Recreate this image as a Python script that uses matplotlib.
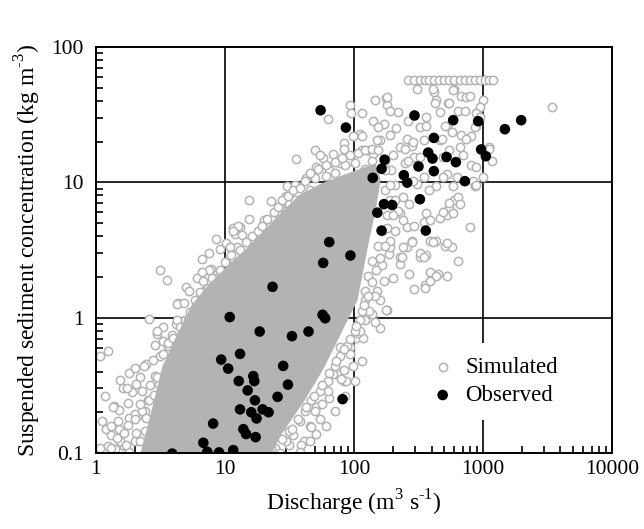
import numpy as np
import matplotlib
matplotlib.use("Agg")
import matplotlib.pyplot as plt
from matplotlib.ticker import LogLocator, FuncFormatter

plt.rcParams["font.family"] = ["Liberation Serif", "DejaVu Serif"]
plt.rcParams["mathtext.fontset"] = "custom"
plt.rcParams["mathtext.rm"] = "Liberation Serif"

# observed discharge (m3/s) and suspended sediment concentration (kg/m3)
obs_q = [86.7, 295, 589, 920, 1482, 1983, 417, 377, 407, 523, 618, 970, 1055,
         173, 164, 140, 244, 259, 317, 417, 725, 325, 171, 198, 152, 164, 361,
         94, 55.2, 64.4, 57.8, 23.4, 10.9, 57.2, 59.9, 18.6, 33.1, 44.5, 13.1,
         9.36, 10.6, 28.3, 12.8, 16.6, 16.9, 30.8, 15.0, 17.1, 25.6, 81.7, 13.1,
         16.0, 19.6, 21.8, 17.6, 8.1, 13.9, 14.6, 17.3, 6.8, 7.3, 9.0, 11.6, 3.9]
obs_c = [25.4, 31.2, 28.8, 28.3, 24.7, 28.8, 21.3, 16.6, 15.0, 15.4, 14.1, 17.5, 15.6,
         14.7, 12.6, 10.8, 11.3, 9.95, 13.1, 12.1, 10.2, 7.5, 6.9, 6.8, 5.97, 4.4, 4.4,
         2.88, 34.1, 3.62, 2.54, 1.69, 1.01, 1.05, 0.99, 0.79, 0.73, 0.79, 0.54,
         0.49, 0.42, 0.44, 0.34, 0.37, 0.34, 0.32, 0.29, 0.245, 0.26, 0.25, 0.21,
         0.20, 0.21, 0.20, 0.18, 0.165, 0.15, 0.138, 0.131, 0.119, 0.102, 0.101, 0.105, 0.099]

# simulated points outside the saturated core, read as log10 values
sim_log_q = [
    0.93, 0.88, 0.82, 0.96, 0.50, 0.55, 0.78, 0.70, 0.64, 0.41, 1.06, 0.89, 0.72, 0.52, 0.62,
    0.09, 0.03, 0.07, 0.47, 0.46, 0.19, 0.26, 0.30, 0.39, 0.21, 0.14, 0.18, 0.25, 0.26, 0.32,
    0.08, 0.12, 0.18, 0.03, 0.36, 0.28, 0.34, 0.37, 0.24, 0.17, 0.30, 0.47, 0.52, 0.63, 0.13,
    0.09, 0.15, 0.22, 0.26, 0.30, 0.19, 0.38, 0.34, 0.42, 0.12, 0.05,
    1.66, 1.74, 1.71, 1.61, 1.50, 1.92, 1.99, 1.97, 2.02, 1.87, 1.81, 1.71, 2.26, 2.20, 2.14,
    2.16, 2.07, 2.03, 1.97, 1.94, 1.90, 1.84, 1.92, 1.75, 1.70, 1.67, 1.59, 1.53, 1.89, 1.80,
    2.81, 2.72, 2.65, 2.59, 2.55, 2.47, 2.43, 2.51, 2.56, 2.71, 2.76, 2.36, 2.30, 2.25, 2.27,
    2.18, 2.23, 2.41,
    2.42, 2.47, 2.51, 2.55, 2.58, 2.62, 2.66, 2.70, 2.74, 2.78, 2.82, 2.86, 2.90, 2.94, 2.98,
    3.02, 3.05, 3.08,
    2.49, 2.62, 2.64, 2.78, 2.83, 2.87, 3.00, 2.98, 2.95, 2.25, 2.26, 2.16, 2.34, 2.28, 2.56,
    2.67, 2.73, 2.72, 2.51, 2.33, 2.42, 2.83, 2.91, 2.95, 3.05, 3.07, 3.00, 2.92, 2.94, 2.54,
    2.67, 2.45, 2.36, 2.30, 2.40, 2.47, 2.74, 2.85, 2.91, 2.80, 2.72, 2.54, 2.49, 2.64, 2.78,
    2.81, 2.74, 2.67, 2.72, 2.56, 2.54, 2.90, 2.45, 2.59, 2.64, 2.72, 2.51, 2.36, 2.28, 2.41,
    2.36, 2.05, 1.97, 2.06, 1.99, 1.92, 2.15, 2.06, 2.20, 2.28, 2.23, 2.15, 3.54,
    1.80, 1.98, 1.70, 1.76, 1.84, 1.92, 1.71, 1.63, 1.81, 1.89, 1.97, 2.06, 2.26, 2.19, 2.18,
    2.10, 2.14,
    1.55, 1.74, 1.19, 1.36, 1.30, 1.19, 1.08, 1.48, 1.44, 1.50, 1.12, 1.01, 1.09,
    1.10, 1.06, 1.04, 1.13, 1.22, 1.01, 0.88, 0.94, 0.82, 0.83, 1.56, 1.43, 1.50, 1.40,
    2.61, 2.63, 2.77, 2.90, 2.74, 2.81, 2.86, 2.98, 2.94, 2.87, 2.82, 2.71, 2.76, 2.68, 2.56,
    2.41, 2.46, 2.40, 2.42, 2.51, 2.69, 2.95, 3.05, 2.95, 2.69, 2.77, 2.58, 2.46, 2.38, 2.43,
    2.74, 2.82, 2.69, 2.77, 2.59, 2.47, 2.38, 2.45, 2.61, 2.54, 2.64, 2.59, 2.55, 2.38, 2.37,
    2.24, 2.28, 2.26, 2.22, 2.19, 2.14, 2.11, 2.32, 2.29, 2.24, 2.32, 2.34, 2.20, 2.16, 2.12,
    2.09, 2.05, 2.09, 2.22, 2.28,
    1.62, 1.70, 1.78, 1.85, 1.93, 2.01, 1.66, 1.54, 1.47, 2.09,
    0.38, 0.40, 0.42, 0.46, 0.50, 0.56, 0.59, 0.69, 0.73, 0.81, 0.84, 0.92, 0.98, 1.05, 1.13,
    1.23, 1.31, 1.35, 1.47, 1.54,
    1.39, 1.47, 1.50, 1.58, 1.62, 1.67, 1.74, 1.80, 1.85, 1.89, 1.95, 2.01, 2.05, 2.06, 2.09,
    0.50, 0.57, 1.31, 1.43, 1.58, 0.46,
    # denser fringe along the edges of the cloud
    0.16, 0.22, 0.25, 0.30, 0.36, 0.41, 0.45, 0.49, 0.53, 0.56, 0.60, 0.62, 0.66, 0.68, 0.71,
    0.75, 0.63, 0.68, 0.34, 0.39, 0.31, 0.23, 0.41, 0.12, 0.44, 0.52, 0.56, 0.60, 0.65, 0.47,
    0.31,
    0.77, 0.81, 0.87, 0.90, 0.96, 1.00, 1.05, 1.12, 1.16, 1.21, 1.26, 1.29, 1.33, 1.38, 1.41,
    1.44, 1.49, 1.53, 1.58,
    1.66, 1.72, 1.78, 1.85, 1.91, 1.97, 2.03, 2.09, 2.14, 2.19, 2.24, 2.28, 2.32, 2.30, 2.26,
    2.24, 2.20, 2.17, 2.14, 2.11, 2.08,
    1.36, 1.44, 1.52, 1.57, 1.63, 1.69, 1.75, 1.81, 1.86, 1.92, 1.97, 2.02, 1.66, 1.78, 1.85,
    1.93, 2.01, 2.06,
]
sim_log_c = [
    0.58, 0.48, 0.43, 0.51, 0.35, 0.28, 0.29, 0.23, 0.11, -0.01, 0.66, 0.36, 0.20, -0.07, -0.05,
    -0.25, -0.28, -0.58, -0.12, -0.20, -0.46, -0.41, -0.37, -0.34, -0.52, -0.65, -0.68, -0.63, -0.74, -0.73,
    -0.82, -0.87, -0.82, -0.96, -0.54, -0.55, -0.44, -0.36, -0.52, -0.76, -0.71, -0.10, -0.17, -0.02, -0.66,
    -0.95, -0.97, -0.95, -0.99, -0.91, -0.91, -0.84, -0.91, -0.91, -0.80, -0.76,
    -0.80, -0.75, -0.86, -0.91, -0.94, -0.47, -0.36, -0.22, -0.15, -0.42, -0.59, -0.66, 0.06, -0.08, 0.03,
    -0.03, -0.15, -0.11, -0.27, -0.47, -0.45, -0.42, -0.39, -0.64, -0.69, -0.81, -0.94, -0.87, -0.22, -0.54,
    0.42, 0.31, 0.32, 0.34, 0.24, 0.21, 0.32, 0.45, 0.46, 0.53, 0.52, 0.40, 0.29, 0.06, 0.47,
    0.20, 0.27, 0.52,
    1.76, 1.76, 1.76, 1.76, 1.76, 1.76, 1.76, 1.76, 1.76, 1.76, 1.76, 1.76, 1.76, 1.76, 1.76,
    1.76, 1.76, 1.76,
    1.69, 1.67, 1.61, 1.69, 1.64, 1.63, 1.61, 1.56, 1.51, 1.62, 1.57, 1.61, 1.52, 1.53, 1.48,
    1.52, 1.59, 1.42, 1.41, 1.40, 1.45, 1.35, 1.34, 1.42, 1.26, 1.16, 1.04, 1.01, 0.97, 1.31,
    1.31, 1.27, 1.26, 1.20, 1.14, 1.19, 1.24, 1.20, 1.13, 1.04, 1.06, 1.04, 0.99, 0.97, 0.87,
    0.89, 0.82, 0.74, 0.76, 0.77, 0.71, 0.67, 0.57, 0.57, 0.57, 0.55, 0.48, 0.45, 0.52, 0.67,
    0.77, 1.36, 1.57, 1.51, 1.34, 1.29, 1.21, 1.24, 1.31, 1.35, 1.43, 1.45, 1.56,
    1.47, 1.51, 1.24, 1.18, 1.21, 1.25, 1.11, 1.03, 1.09, 1.14, 1.16, 1.34, 1.63, 1.41, 1.31,
    1.24, 1.16,
    1.17, 1.20, 0.87, 0.86, 0.72, 0.73, 0.62, 0.97, 0.82, 0.89, 0.67, 0.55, 0.52,
    0.68, 0.64, 0.52, 0.61, 0.58, 0.41, 0.35, 0.29, 0.34, 0.27, 0.97, 0.82, 0.84, 0.77,
    1.69, 1.59, 1.68, 1.64, 1.59, 1.53, 1.53, 1.48, 1.41, 1.32, 1.26, 1.42, 1.37, 1.32, 1.42,
    1.32, 1.30, 1.25, 1.16, 1.19, 1.19, 1.11, 1.25, 0.98, 1.04, 0.97, 0.94, 1.01, 0.89, 0.84,
    0.85, 0.84, 0.78, 0.77, 0.72, 0.68, 0.72, 0.56, 0.56, 0.45, 0.31, 0.27, 0.22, 0.52, 0.45,
    0.94, 0.87, 0.76, 0.64, 0.53, 0.42, 0.31, 0.98, 1.09, 1.16, 0.64, 0.79, 0.13, 0.16, 0.05,
    -0.02, -0.10, 0.20, 0.39, 0.57,
    1.01, 1.03, 1.05, 1.07, 1.13, 1.14, 0.94, 0.98, 0.90, 1.10,
    -0.69, -0.61, -0.50, -0.43, -0.28, -0.21, -0.13, -0.02, 0.04, 0.13, 0.20, 0.24, 0.31, 0.36, 0.44,
    0.53, 0.61, 0.68, 0.79, 0.87,
    -0.96, -0.91, -0.84, -0.76, -0.69, -0.61, -0.54, -0.47, -0.36, -0.28, -0.21, -0.10, -0.02, 0.05, 0.13,
    -0.99, -1.00, -1.00, -1.00, -0.99, -1.00,
    # denser fringe along the edges of the cloud
    -0.89, -0.85, -0.79, -0.75, -0.69, -0.61, -0.57, -0.49, -0.43, -0.37, -0.29, -0.22, -0.15, -0.07, -0.02,
    0.03, 0.10, 0.11, -0.64, -0.74, -0.85, -0.94, -0.96, -0.96, -0.31, -0.27, -0.19, -0.15, -0.07, -0.44,
    -0.49,
    0.13, 0.19, 0.22, 0.29, 0.35, 0.41, 0.46, 0.50, 0.56, 0.60, 0.64, 0.68, 0.73, 0.78, 0.82,
    0.87, 0.90, 0.94, 0.96,
    1.07, 1.10, 1.13, 1.15, 1.18, 1.20, 1.22, 1.24, 1.25, 1.24, 1.09, 0.98, 0.87, 0.76, 0.66,
    0.53, 0.44, 0.35, 0.26, 0.16, 0.09,
    -0.96, -0.90, -0.82, -0.75, -0.66, -0.58, -0.50, -0.41, -0.32, -0.23, -0.16, -0.06, -0.91, -0.80, -0.69,
    -0.58, -0.47, -0.32,
]

# outline of the saturated (solid grey) part of the simulated cloud, log10 values
core_log_q = [0.34, 0.42, 0.46, 0.52, 0.64, 0.75, 0.88, 1.04, 1.19, 1.39, 1.58, 1.74,
              1.93, 2.16, 2.20, 2.16, 2.11, 2.02, 1.89, 1.76, 1.61, 1.43, 1.33]
core_log_c = [-1.05, -0.76, -0.61, -0.37, -0.12, 0.09, 0.24, 0.39, 0.52, 0.72, 0.90, 0.98,
              1.05, 1.13, 1.02, 0.79, 0.57, 0.13, -0.12, -0.37, -0.61, -0.86, -1.05]

GREY = "#b3b3b3"

fig = plt.figure(figsize=(6.44, 5.29), dpi=100)
ax = fig.add_axes([0.149, 0.1437, 0.801, 0.7674])

sim_q = 10 ** np.array(sim_log_q)
sim_c = 10 ** np.array(sim_log_c)
core_q = 10 ** np.array(core_log_q)
core_c = 10 ** np.array(core_log_c)

ax.scatter(sim_q, sim_c, s=36, facecolor="white", edgecolor=GREY,
           linewidth=1.1, zorder=2, label="Simulated")
ax.fill(core_q, core_c, color=GREY, lw=1.5, zorder=2.5)
ax.scatter(obs_q, obs_c, s=58, color="black", edgecolor="none", zorder=3,
           label="Observed")

ax.set_xscale("log")
ax.set_yscale("log")
ax.set_xlim(1, 10000)
ax.set_ylim(0.1, 100)

ax.grid(True, which="major", color="black", lw=1.2)
ax.set_axisbelow(True)
for sp in ax.spines.values():
    sp.set_linewidth(1.4)

fmt = FuncFormatter(lambda v, p: "%g" % v)
ax.xaxis.set_major_formatter(fmt)
ax.yaxis.set_major_formatter(fmt)
ax.xaxis.set_minor_locator(LogLocator(base=10, subs=np.arange(2, 10)))
ax.yaxis.set_minor_locator(LogLocator(base=10, subs=np.arange(2, 10)))
ax.xaxis.set_minor_formatter(FuncFormatter(lambda v, p: ""))
ax.yaxis.set_minor_formatter(FuncFormatter(lambda v, p: ""))
ax.tick_params(which="both", direction="in", top=False, right=False, labelsize=15.5)
ax.tick_params(which="major", length=0, width=1.2)
ax.tick_params(which="minor", length=5, width=1.2)
ax.tick_params(axis="y", which="major", pad=9)
ax.tick_params(axis="x", which="major", pad=5)

ax.set_xlabel(r"Discharge (m$^{\mathregular{3}}$ s$^{\text{-1}}$)", fontsize=17, labelpad=6)
ax.set_ylabel(r"Suspended sediment concentration (kg m$^{\text{-3}}$)", fontsize=17, labelpad=6)

leg = ax.legend(loc="center", bbox_to_anchor=(0.773, 0.176), fontsize=16.5,
                frameon=True, facecolor="white", edgecolor="none", framealpha=1,
                handletextpad=0.5, borderpad=0.6, labelspacing=0.3,
                handlelength=1.0, fancybox=False)
leg.set_zorder(5)

fig.savefig("out.png", dpi=100)
